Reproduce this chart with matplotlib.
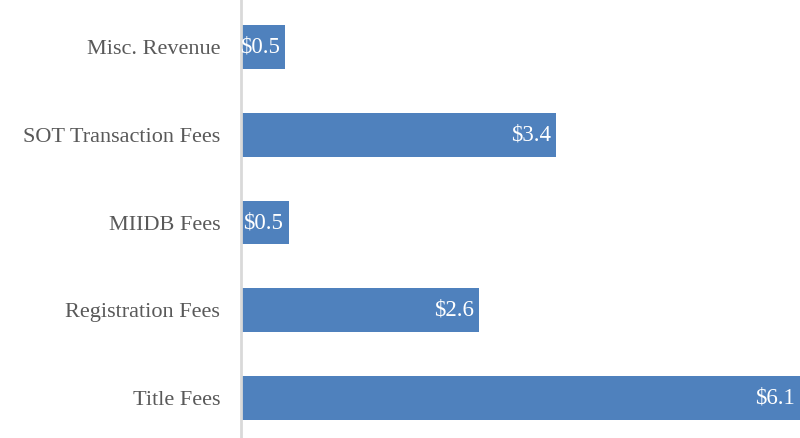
import matplotlib.pyplot as plt

plt.rcParams.update({
    "figure.facecolor": "white",
    "font.family": ["Liberation Serif", "DejaVu Serif"],
})

categories = ["Title Fees", "Registration Fees", "MIIDB Fees",
              "SOT Transaction Fees", "Misc. Revenue"]
values = [6.1, 2.6, 0.52, 3.44, 0.48]

BAR_COLOR = "#4f81bd"
TEXT_GREY = "#595959"

fig = plt.figure(figsize=(8, 4.38), dpi=100)
ax = fig.add_axes([241 / 800, 0, 559 / 800, 1])

ypos = range(len(categories))
bars = ax.barh(ypos, values, height=0.5, color=BAR_COLOR)

for b, v in zip(bars, values):
    ax.text(b.get_width() - 0.06, b.get_y() + b.get_height() / 2,
            f"${v:.1f}", color="white", fontsize=16.5,
            ha="right", va="center")

ax.set_xlim(0, 6.1)
ax.set_ylim(-0.456, 4.536)
ax.set_yticks(list(ypos))
ax.set_yticklabels(categories, fontsize=16, color=TEXT_GREY)
ax.tick_params(axis="y", length=0, pad=15)
ax.set_xticks([])

for side in ["top", "right", "bottom"]:
    ax.spines[side].set_visible(False)
ax.spines["left"].set_color("#d9d9d9")
ax.spines["left"].set_linewidth(2)

fig.savefig("out.png", dpi=100)
